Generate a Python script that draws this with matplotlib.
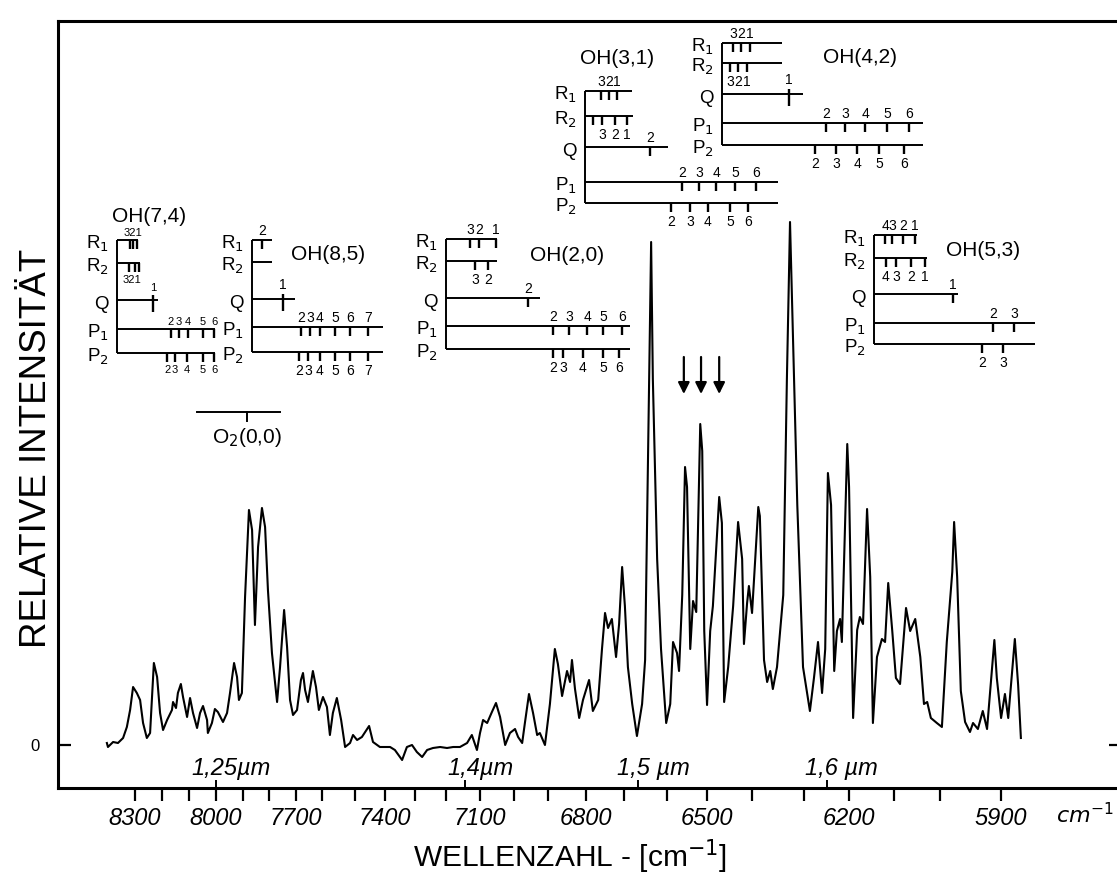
import numpy as np
import matplotlib
matplotlib.use("Agg")
import matplotlib.pyplot as plt
from matplotlib import font_manager

_installed = {f.name for f in font_manager.fontManager.ttflist}
SANS = "Liberation Sans" if "Liberation Sans" in _installed else "DejaVu Sans"
NARROW = "Liberation Sans Narrow" if "Liberation Sans Narrow" in _installed else SANS

# ---------------------------------------------------------------------------
# Night-sky emission spectrum (wavenumber in cm^-1, relative intensity)
# ---------------------------------------------------------------------------
wavenumber = [
    8404, 8400, 8381, 8363, 8344, 8330, 8318, 8307, 8293, 8281,
    8270, 8256, 8244, 8230, 8218, 8207, 8196, 8181, 8163, 8159,
    8148, 8141, 8130, 8122, 8107, 8096, 8085, 8070, 8059, 8048,
    8033, 8030, 8015, 8004, 7993, 7974, 7959, 7948, 7933, 7922,
    7915, 7904, 7892, 7877, 7865, 7854, 7842, 7827, 7815, 7804,
    7789, 7770, 7759, 7744, 7733, 7722, 7711, 7696, 7681, 7673,
    7665, 7654, 7635, 7623, 7612, 7597, 7585, 7576, 7567, 7555,
    7542, 7530, 7515, 7506, 7493, 7477, 7453, 7440, 7417, 7383,
    7367, 7343, 7327, 7310, 7294, 7277, 7261, 7242, 7219, 7197,
    7179, 7159, 7138, 7124, 7109, 7100, 7091, 7079, 7065, 7053,
    7041, 7026, 7012, 6997, 6988, 6976, 6968, 6956, 6944, 6932,
    6924, 6909, 6895, 6882, 6874, 6863, 6850, 6842, 6837, 6829,
    6818, 6808, 6792, 6782, 6768, 6758, 6750, 6742, 6732, 6721,
    6713, 6705, 6698, 6691, 6681, 6670, 6658, 6651, 6644, 6637,
    6633, 6623, 6614, 6602, 6592, 6585, 6575, 6570, 6562, 6555,
    6550, 6542, 6535, 6527, 6517, 6512, 6507, 6500, 6493, 6487,
    6473, 6467, 6462, 6453, 6442, 6431, 6422, 6418, 6411, 6407,
    6400, 6388, 6385, 6377, 6371, 6365, 6360, 6352, 6340, 6333,
    6327, 6321, 6313, 6302, 6287, 6278, 6269, 6260, 6253, 6247,
    6240, 6233, 6227, 6220, 6216, 6204, 6200, 6191, 6182, 6176,
    6169, 6160, 6153, 6147, 6138, 6127, 6120, 6113, 6104, 6096,
    6087, 6074, 6065, 6054, 6043, 6035, 6028, 6020, 6007, 5997,
    5989, 5980, 5977, 5972, 5966, 5959, 5951, 5946, 5938, 5930,
    5923, 5911, 5907, 5900, 5893, 5887, 5875, 5869, 5864,
]
intensity = [
    0.4, -0.4, 0.6, 0.4, 1.4, 3.6, 7.0, 11.6, 10.4, 9.0,
    4.4, 1.4, 2.4, 16.4, 13.6, 6.4, 3.0, 5.0, 7.0, 8.6,
    7.4, 10.4, 12.2, 9.6, 5.6, 9.4, 6.4, 3.4, 6.4, 7.8,
    5.0, 2.4, 4.4, 7.2, 6.6, 4.6, 6.4, 10.4, 16.4, 13.6,
    9.0, 10.4, 29.6, 47.0, 43.0, 24.0, 39.6, 47.4, 43.6, 31.0,
    18.4, 8.6, 15.6, 27.0, 19.6, 9.0, 6.0, 7.0, 13.0, 14.4,
    11.0, 8.6, 14.8, 11.6, 7.0, 9.6, 7.6, 2.0, 6.4, 9.4,
    5.0, -0.4, 0.4, 2.0, 1.0, 1.6, 3.8, 0.6, -0.4, -0.4,
    -1.0, -3.0, -0.4, 0.0, -1.4, -2.4, -1.0, -0.6, -0.4, -0.6,
    -0.4, -0.4, 0.4, 2.0, -1.0, 2.4, 5.0, 4.4, 6.6, 8.4,
    5.6, 0.0, 2.4, 3.2, 1.6, 0.4, 4.4, 10.2, 6.4, 2.0,
    2.4, 0.0, 8.2, 19.2, 16.2, 9.8, 14.8, 12.6, 17.0, 11.2,
    5.4, 9.0, 13.0, 6.8, 9.0, 19.2, 26.4, 23.4, 25.2, 17.6,
    24.2, 35.6, 27.8, 15.6, 8.2, 1.8, 8.2, 17.0, 58.8, 100.6,
    73.2, 37.2, 19.2, 4.4, 8.2, 20.6, 18.4, 14.8, 30.0, 55.6,
    51.6, 19.2, 28.8, 26.6, 64.2, 58.8, 22.8, 8.0, 22.8, 27.8,
    49.6, 44.4, 8.6, 15.6, 27.8, 44.6, 37.2, 20.2, 28.4, 31.8,
    26.4, 47.6, 45.8, 17.0, 12.6, 14.8, 11.2, 15.6, 30.0, 73.2,
    104.6, 80.4, 48.0, 15.6, 6.8, 13.4, 20.6, 10.4, 19.2, 54.4,
    48.0, 14.8, 22.8, 25.2, 20.6, 60.2, 51.6, 5.4, 23.0, 25.6,
    24.2, 47.2, 33.6, 4.4, 17.6, 21.2, 20.6, 32.4, 22.8, 13.4,
    12.2, 27.4, 22.8, 25.2, 17.6, 8.2, 8.6, 5.4, 4.4, 3.6,
    20.6, 34.6, 44.6, 33.6, 10.8, 4.6, 2.6, 4.4, 3.2, 6.8,
    3.2, 21.0, 13.4, 5.4, 10.2, 5.4, 21.2, 12.0, 1.4,
]
assert len(wavenumber) == len(intensity)

# axis annotation
tick_wavenumbers = [8300, 8000, 7700, 7400, 7100, 6800, 6500, 6200, 5900]
wavelength_marks_um = [1.25, 1.4, 1.5, 1.6]
wavelength_labels = ["1,25µm", "1,4µm", "1,5 µm", "1,6 µm"]
arrow_wavenumbers = [6558, 6515, 6473]

# ---------------------------------------------------------------------------
# Line positions of the OH Meinel bands and the O2 band (cm^-1)
# J labels: one character per line (blank = unlabeled) or (position, text)
# ---------------------------------------------------------------------------
oh74_lines = {"R1": [8318, 8307, 8293], "R2": [8322, 8300, 8285], "Q": [8233],
              "P1": [8167, 8137, 8104, 8048, 8007],
              "P2": [8181, 8152, 8107, 8048, 8007]}
oh74_j = {"R1": (8307, "321"), "R2": (8311, "321"), "Q": "1",
          "P1": "23456", "P2": "23456"}

oh85_lines = {"R1": [7827], "R2": [], "Q": [7748],
              "P1": [7681, 7646, 7608, 7561, 7515, 7457],
              "P2": [7688, 7654, 7608, 7561, 7515, 7457]}
oh85_j = {"R1": "2", "R2": "", "Q": "1", "P1": "234567", "P2": "234567"}

oh20_lines = {"R1": [7129, 7103, 7053], "R2": [7115, 7076], "Q": [6959],
              "P1": [6887, 6845, 6797, 6755, 6705],
              "P2": [6887, 6861, 6808, 6755, 6713]}
oh20_j = {"R1": "321", "R2": "32", "Q": "2", "P1": "23456", "P2": "23456"}

oh31_lines = {"R1": [6761, 6739, 6718], "R2": [6782, 6758, 6724, 6693],
              "Q": [6640],
              "P1": [6562, 6520, 6480, 6438, 6392],
              "P2": [6590, 6543, 6498, 6449, 6409]}
oh31_j = {"R1": "321", "R2": " 321", "Q": "2", "P1": "23456", "P2": "23456"}

oh42_lines = {"R1": [6442, 6424, 6404], "R2": [6449, 6431, 6411], "Q": [6329],
              "P1": [6251, 6209, 6164, 6116, 6067],
              "P2": [6276, 6229, 6182, 6133, 6078]}
oh42_j = {"R1": "321", "R2": "321", "Q": "1", "P1": "23456", "P2": "23456"}

oh53_lines = {"R1": [6120, 6104, 6080, 6054], "R2": [6118, 6096, 6063, 6033],
              "Q": [5979], "P1": [5913, 5876], "P2": [5931, 5896]}
oh53_j = {"R1": "4321", "R2": "4321", "Q": "1", "P1": "23", "P2": "23"}

o2_band_line = 7885

# ---------------------------------------------------------------------------
# Placement of the line-position ladders (x in cm^-1, y in intensity units)
# ---------------------------------------------------------------------------
oh74_layout = {"x0": 8367, "title": (8248, 105.8), "q_cross": True, "jsize": 8,
               "rows": {"R1": (101.0, 8289), "R2": (96.4, 8281), "Q": (89.0, 8215),
                        "P1": (83.2, 8004), "P2": (78.4, 8004)}}
oh85_layout = {"x0": 7865, "title": (7582, 98.2), "q_cross": True, "jsize": 10,
               "rows": {"R1": (101.0, 7789), "R2": (96.6, 7789), "Q": (89.2, 7704),
                        "P1": (83.6, 7407), "P2": (78.6, 7407)}}
oh20_layout = {"x0": 7200, "title": (6850, 98.0), "q_cross": False, "jsize": 10,
               "rows": {"R1": (101.2, 7050), "R2": (96.8, 7050), "Q": (89.4, 6924),
                        "P1": (83.8, 6686), "P2": (79.2, 6686)}}
oh31_layout = {"x0": 6803, "title": (6718, 137.4), "q_cross": False, "jsize": 10,
               "rows": {"R1": (130.8, 6681), "R2": (125.8, 6679), "Q": (119.6, 6598),
                        "P1": (112.6, 6350), "P2": (108.4, 6350)}}
oh42_layout = {"x0": 6467, "title": (6176, 137.6), "q_cross": True, "jsize": 10,
               "rows": {"R1": (140.4, 6342), "R2": (136.4, 6342), "Q": (130.2, 6302),
                        "P1": (124.4, 6037), "P2": (120.0, 6037)}}
oh53_layout = {"x0": 6144, "title": (5930, 99.0), "q_cross": False, "jsize": 10,
               "rows": {"R1": (102.0, 6050), "R2": (97.4, 6028), "Q": (90.2, 5970),
                        "P1": (84.4, 5838), "P2": (80.2, 5838)}}
o2_layout = {"x": (8070, 7759), "y": 66.6, "label_y": 61.6}

BRANCHES = ["R1", "R2", "Q", "P1", "P2"]
ROW_TEXT = {"R1": "R$_1$", "R2": "R$_2$", "Q": "Q", "P1": "P$_1$", "P2": "P$_2$"}
LABEL_ABOVE = {"R1": True, "R2": False, "Q": True, "P1": True, "P2": False}
TICK = 1.8          # ladder tick length (intensity units)
LW = 1.4

# ---------------------------------------------------------------------------
# Non-linear wavenumber scale of the recorder chart (calibration marks,
# chart position increases towards lower wavenumber)
# ---------------------------------------------------------------------------
chart_nu = np.array([9000, 8300, 8200, 8100, 8000, 7900, 7800, 7700, 7600, 7500,
                     7400, 7300, 7200, 7100, 7000, 6900, 6800, 6700, 6600, 6500,
                     6400, 6300, 6200, 6100, 6000, 5900, 5000], float)
chart_pos = np.array([-54, 135, 162, 189, 216, 243, 269, 296, 322, 355,
                      385, 415, 446, 480, 514, 548, 586, 624, 667, 707,
                      752, 804, 849, 894, 940, 1001, 1496], float)


def to_chart(nu):
    # monotonically increasing in wavenumber (negative chart position)
    return -np.interp(-np.asarray(nu, float), -chart_nu, chart_pos)


def from_chart(q):
    return -np.interp(-np.asarray(q, float), chart_pos, -chart_nu)


# ---------------------------------------------------------------------------
fig = plt.figure(figsize=(11.17, 8.83), dpi=100)
ax = fig.add_axes([58 / 1117, 95 / 883, 1063 / 1117, 767 / 883])
ax.set_xscale("function", functions=(to_chart, from_chart))
ax.set_xlim(8585, 5682)
ax.set_ylim(-8.6, 144.8)

ax.plot(wavenumber, intensity, color="black", lw=1.5, solid_joinstyle="round")

# x axis: wavenumber ticks every 100 cm^-1, labels every 300 cm^-1
major = np.arange(8300, 5899, -100)
ax.set_xticks(major)
ax.set_xticklabels([str(v) if v in tick_wavenumbers else "" for v in major],
                   fontfamily=NARROW, fontstyle="italic", fontsize=17)
ax.xaxis.remove_overlapping_locs = False
ax.set_xticks(1e4 / np.array(wavelength_marks_um), minor=True)
ax.tick_params(axis="x", which="major", direction="out", length=9.5, width=1.6, pad=4)
ax.tick_params(axis="x", which="minor", direction="in", length=6, width=1.4)
for lam, txt in zip(wavelength_marks_um, wavelength_labels):
    ax.annotate(txt, xy=(1e4 / lam, 0), xycoords=("data", "axes fraction"),
                xytext=(11, 14), textcoords="offset points", ha="center", va="center",
                fontfamily=NARROW, fontstyle="italic", fontsize=17)

# y axis: only the zero level
ax.set_yticks([0])
ax.set_yticklabels(["0"], fontfamily=SANS, fontsize=12)
ax.tick_params(axis="y", direction="in", length=9, width=1.6, pad=13, right=True)

for sp in ax.spines.values():
    sp.set_linewidth(2.2)

fig.text(1085 / 1117, 1 - 815 / 883, r"$\mathit{cm}^{-1}$", fontsize=16,
         ha="center", va="center")
fig.text(570 / 1117, 1 - 857 / 883, "WELLENZAHL - [cm$^{-1}$]", fontfamily=SANS,
         fontsize=21.5, ha="center", va="center")
fig.text(37 / 1117, 1 - 448 / 883, "RELATIVE INTENSITÄT", fontfamily=SANS,
         fontsize=26.5, rotation=90, ha="center", va="center")


def label_items(lines, j):
    if isinstance(j, tuple):
        return [j]
    return [(nu, ch) for nu, ch in zip(lines, j) if ch.strip()]


def draw_band(name, lines, jlab, lay):
    x0 = lay["x0"]
    ys = [lay["rows"][b][0] for b in BRANCHES]
    ax.plot([x0, x0], [max(ys), min(ys)], color="black", lw=LW, solid_capstyle="butt")
    for b in BRANCHES:
        y, x_end = lay["rows"][b]
        ax.plot([x0, x_end], [y, y], color="black", lw=LW, solid_capstyle="butt")
        cross = b == "Q" and lay["q_cross"]
        for nu in lines[b]:
            top = y + 1.0 if cross else y
            ax.plot([nu, nu], [top, y - TICK - (0.6 if cross else 0)], color="black",
                    lw=LW + 0.3, solid_capstyle="butt")
        for nu, txt in label_items(lines[b], jlab[b]):
            if LABEL_ABOVE[b]:
                ax.annotate(txt, (nu, y + (1.0 if cross else 0)), xytext=(0, 1.5),
                            textcoords="offset points", ha="center", va="bottom",
                            fontfamily=NARROW, fontsize=lay["jsize"])
            else:
                ax.annotate(txt, (nu, y - TICK), xytext=(0, -2),
                            textcoords="offset points", ha="center", va="top",
                            fontfamily=NARROW, fontsize=lay["jsize"])
        ax.annotate(ROW_TEXT[b], (x0, y), xytext=(-6, -3), textcoords="offset points",
                    ha="right", va="center", fontfamily=SANS, fontsize=13.5)
    ax.text(*lay["title"], name, ha="center", va="center", fontfamily=SANS, fontsize=15)


draw_band("OH(7,4)", oh74_lines, oh74_j, oh74_layout)
draw_band("OH(8,5)", oh85_lines, oh85_j, oh85_layout)
draw_band("OH(2,0)", oh20_lines, oh20_j, oh20_layout)
draw_band("OH(3,1)", oh31_lines, oh31_j, oh31_layout)
draw_band("OH(4,2)", oh42_lines, oh42_j, oh42_layout)
draw_band("OH(5,3)", oh53_lines, oh53_j, oh53_layout)

# O2 (0,0) band marker
ax.plot(list(o2_layout["x"]), [o2_layout["y"]] * 2, color="black", lw=LW)
ax.plot([o2_band_line] * 2, [o2_layout["y"], o2_layout["y"] - TICK], color="black", lw=LW)
ax.text(o2_band_line, o2_layout["label_y"], "O$_2$(0,0)", ha="center", va="center",
        fontfamily=SANS, fontsize=15)

# arrows marking individual lines
for nu in arrow_wavenumbers:
    ax.annotate("", xy=(nu, 70.2), xytext=(nu, 77.6),
                arrowprops=dict(arrowstyle="-|>", color="black", lw=1.6,
                                mutation_scale=17, shrinkA=0, shrinkB=0))

fig.savefig("out.png", dpi=100, facecolor="white")
